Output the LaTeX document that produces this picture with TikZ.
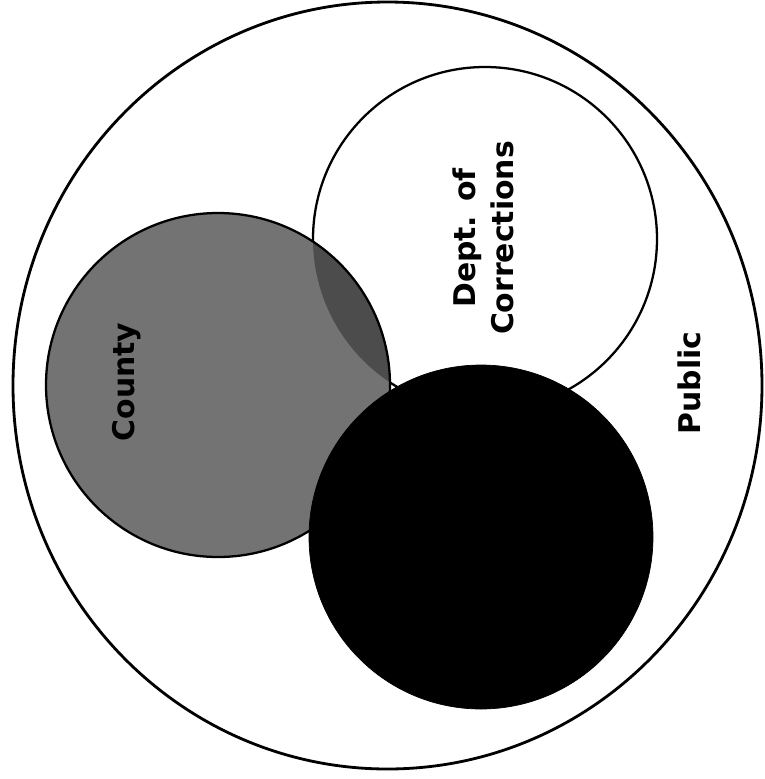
\documentclass[tikz,border=0pt]{standalone}
\usepackage{fontspec}
\setsansfont{DejaVu Sans}
\usepackage{tikz}
\usetikzlibrary{positioning}

\begin{document}
\begin{tikzpicture}[x=0.02cm,y=-0.02cm,
    ringlabel/.style={font=\sffamily\bfseries\fontsize{17}{21.5}\selectfont,rotate=90,align=center,inner sep=0pt}]
    % radius of the three inner circles
    \pgfmathsetmacro{\Rin}{172}

    \useasboundingbox (0,0) rectangle (765,779);

    \coordinate (centro) at (387.5,385.5);
    \coordinate (doc) at (485,239);
    \coordinate (county) at (218,385);
    \coordinate (other) at (481,537);

    % public
    \draw[line width=1.6pt] (centro) ellipse [x radius=374.5, y radius=383.5];

    % dept. of corrections
    \filldraw[fill=white,draw=black,line width=1.3pt] (doc) circle[radius=\Rin];

    % county, darker where it overlaps the dept.
    \fill[black!55] (county) circle[radius=\Rin];
    \begin{scope}
        \clip (doc) circle[radius=\Rin];
        \fill[black!70] (county) circle[radius=\Rin];
    \end{scope}
    \draw[line width=1.3pt] (county) circle[radius=\Rin];

    \filldraw[fill=black,draw=black] (other) circle[radius=\Rin];

    \node[ringlabel] (docname) at (483,238) {Dept. of\\Corrections};
    \node[ringlabel] (countyname) at (127,382) {County};
    \node[ringlabel] (publicname) at (689,383) {Public};

\end{tikzpicture}
\end{document}
